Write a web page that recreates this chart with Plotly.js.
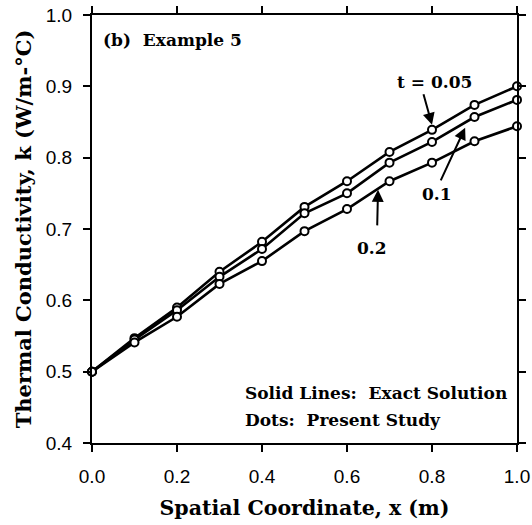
<!DOCTYPE html>
<html>
<head>
<meta charset="utf-8">
<script src="https://cdn.plot.ly/plotly-3.0.1.min.js"></script>
<style>html,body{margin:0;padding:0;background:#fff;}#chart{width:532px;height:525px;}</style>
</head>
<body>
<div id="chart"></div>
<script>
const xPos = [0.0, 0.1, 0.2, 0.3, 0.4, 0.5, 0.6, 0.7, 0.8, 0.9, 1.0];
const k_t005 = [0.500, 0.547, 0.590, 0.640, 0.682, 0.731, 0.767, 0.808, 0.839, 0.874, 0.900];
const k_t01  = [0.500, 0.545, 0.586, 0.633, 0.672, 0.722, 0.750, 0.793, 0.822, 0.857, 0.881];
const k_t02  = [0.500, 0.541, 0.577, 0.623, 0.655, 0.697, 0.728, 0.767, 0.793, 0.823, 0.844];
const seriesNames = ["t = 0.05", "t = 0.1", "t = 0.2"];
const xTicks = [0.0, 0.2, 0.4, 0.6, 0.8, 1.0];
const xTickText = ["0.0", "0.2", "0.4", "0.6", "0.8", "1.0"];
const yTicks = [0.4, 0.5, 0.6, 0.7, 0.8, 0.9, 1.0];
const yTickText = ["0.4", "0.5", "0.6", "0.7", "0.8", "0.9", "1.0"];

const serif = "DejaVu Serif, serif";
const sans = "Liberation Sans, Arial, sans-serif";

const allSeries = [k_t005, k_t01, k_t02];
const traces = allSeries.map((ys, i) => ({
  x: xPos, y: ys, name: seriesNames[i], type: "scatter", mode: "lines+markers",
  line: {color: "#000", width: 2.6},
  marker: {symbol: "circle", size: 8, color: "#fff", line: {color: "#000", width: 2}},
  showlegend: false, cliponaxis: false
}));

function axisCommon() {
  return {
    showgrid: false, zeroline: false, showline: true, linecolor: "#000", linewidth: 2,
    mirror: "ticks", ticks: "outside", ticklen: 7, tickwidth: 2, tickcolor: "#000",
    tickfont: {family: sans, size: 19, color: "#000"}
  };
}

const layout = {
  width: 532, height: 525,
  margin: {l: 92, r: 15, t: 15, b: 82},
  paper_bgcolor: "#fff", plot_bgcolor: "#fff",
  xaxis: Object.assign(axisCommon(), {
    range: [0, 1], tickvals: xTicks, ticktext: xTickText, ticklabelstandoff: 8,
    title: {text: "<b>Spatial Coordinate, x (m)</b>", font: {family: serif, size: 20.5, color: "#000"}, standoff: 15}
  }),
  yaxis: Object.assign(axisCommon(), {
    range: [0.4, 1.0], tickvals: yTicks, ticktext: yTickText, ticklabelstandoff: 7,
    title: {text: "<b>Thermal Conductivity, k (W/m-°C)</b>", font: {family: serif, size: 21, color: "#000"}, standoff: 8}
  }),
  annotations: [
    {xref: "paper", yref: "paper", x: 0.022, y: 0.942, xanchor: "left", yanchor: "middle", showarrow: false,
     text: "<b>(b)  Example 5</b>", font: {family: serif, size: 17, color: "#000"}},
    {xref: "x", yref: "y", x: 0.807, y: 0.906, showarrow: false, text: "<b>t = 0.05</b>",
     font: {family: serif, size: 17, color: "#000"}},
    {xref: "x", yref: "y", x: 0.800, y: 0.846, axref: "x", ayref: "y", ax: 0.779, ay: 0.891,
     text: "", showarrow: true, arrowhead: 2, arrowsize: 1.2, arrowwidth: 2, arrowcolor: "#000"},
    {xref: "x", yref: "y", x: 0.812, y: 0.749, showarrow: false, text: "<b>0.1</b>",
     font: {family: serif, size: 17, color: "#000"}},
    {xref: "x", yref: "y", x: 0.878, y: 0.842, axref: "x", ayref: "y", ax: 0.819, ay: 0.766,
     text: "", showarrow: true, arrowhead: 2, arrowsize: 1.2, arrowwidth: 2, arrowcolor: "#000"},
    {xref: "x", yref: "y", x: 0.659, y: 0.673, showarrow: false, text: "<b>0.2</b>",
     font: {family: serif, size: 17, color: "#000"}},
    {xref: "x", yref: "y", x: 0.673, y: 0.755, axref: "x", ayref: "y", ax: 0.671, ay: 0.703,
     text: "", showarrow: true, arrowhead: 2, arrowsize: 1.2, arrowwidth: 2, arrowcolor: "#000"},
    {xref: "paper", yref: "paper", x: 0.355, y: 0.117, xanchor: "left", yanchor: "middle", showarrow: false,
     text: "<b>Solid Lines:  Exact Solution</b>", font: {family: serif, size: 17, color: "#000"}},
    {xref: "paper", yref: "paper", x: 0.355, y: 0.054, xanchor: "left", yanchor: "middle", showarrow: false,
     text: "<b>Dots:  Present Study</b>", font: {family: serif, size: 17, color: "#000"}}
  ]
};

Plotly.newPlot("chart", traces, layout, {displayModeBar: false, staticPlot: true});
</script>
</body>
</html>
